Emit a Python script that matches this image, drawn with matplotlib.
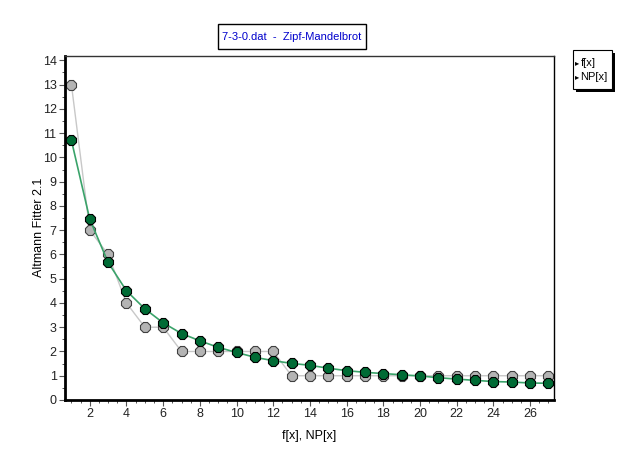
import numpy as np
import matplotlib.pyplot as plt
from matplotlib.ticker import MultipleLocator
from matplotlib.patches import Rectangle

plt.rcParams['font.family'] = ['Liberation Sans Narrow', 'Liberation Sans', 'DejaVu Sans']

# data
x = list(range(1, 28))
f_obs = [13, 7, 6, 4, 3, 3, 2, 2, 2, 2, 2, 2, 1, 1, 1, 1, 1, 1, 1, 1, 1, 1, 1, 1, 1, 1, 1]
np_fit = [10.7, 7.45, 5.67, 4.5, 3.76, 3.18, 2.74, 2.44, 2.17, 1.96, 1.76, 1.62, 1.51, 1.43,
          1.31, 1.21, 1.14, 1.09, 1.04, 0.99, 0.92, 0.86, 0.81, 0.76, 0.74, 0.70, 0.69]
title = '7-3-0.dat  -  Zipf-Mandelbrot'

fig = plt.figure(figsize=(6.22, 4.57), dpi=100)
W, H = 622, 457
ax = fig.add_axes([65 / W, 1 - 400 / H, (554 - 65) / W, (400 - 55.5) / H])

ax.plot(x, f_obs, color='#c8c8c8', lw=1.0, marker='8', ms=7.8,
        mfc='#b4b4b4', mec='#404040', mew=0.8, zorder=2)
ax.plot(x, np_fit, color='#3aa36a', lw=1.2, marker='8', ms=7.8,
        mfc='#006b35', mec='#000000', mew=0.8, zorder=3)

ax.set_xlim(0.65, 27.3)
ax.set_ylim(0, 14.2)
ax.xaxis.set_major_locator(MultipleLocator(2))
ax.xaxis.set_minor_locator(MultipleLocator(0.5))
ax.yaxis.set_major_locator(MultipleLocator(1))
ax.yaxis.set_minor_locator(MultipleLocator(0.5))
ax.tick_params(which='major', length=4, width=0.8, labelsize=9, direction='out', colors='#555555',
               labelcolor='#222222', pad=2)
ax.tick_params(which='minor', length=2.5, width=0.7, direction='out', colors='#555555')

ax.spines['left'].set_linewidth(2)
ax.spines['bottom'].set_linewidth(2)
ax.spines['top'].set_linewidth(1)
ax.spines['right'].set_linewidth(1)
ax.spines['top'].set_color('#333333')

ax.set_xlabel('f[x], NP[x]', fontsize=9, labelpad=7)
ax.set_ylabel('Altmann Fitter 2.1', fontsize=9, labelpad=-2)

# title box
fig.patches.append(Rectangle((218 / W, 1 - 49 / H), 148 / W, 25 / H, transform=fig.transFigure,
                             fc='white', ec='black', lw=1))
fig.text(292 / W, 1 - 36.5 / H, title, color='#0000cc', fontsize=8, ha='center', va='center')

# legend box with shadow
fig.patches.append(Rectangle((575.5 / W, 1 - 92 / H), 39 / W, 39 / H, transform=fig.transFigure,
                             fc='black', ec='none', zorder=1))
fig.patches.append(Rectangle((572.5 / W, 1 - 89 / H), 39 / W, 39 / H, transform=fig.transFigure,
                             fc='white', ec='black', lw=0.8, zorder=2))
for lab, yy in [('f[x]', 63), ('NP[x]', 77)]:
    fig.text(577 / W, 1 - yy / H, '\u25b8', fontsize=6, ha='center', va='center',
             family=['DejaVu Sans'], zorder=3)
    fig.text(580.5 / W, 1 - yy / H, lab, fontsize=8, ha='left', va='center', zorder=3)

fig.savefig('out.png', dpi=100)
